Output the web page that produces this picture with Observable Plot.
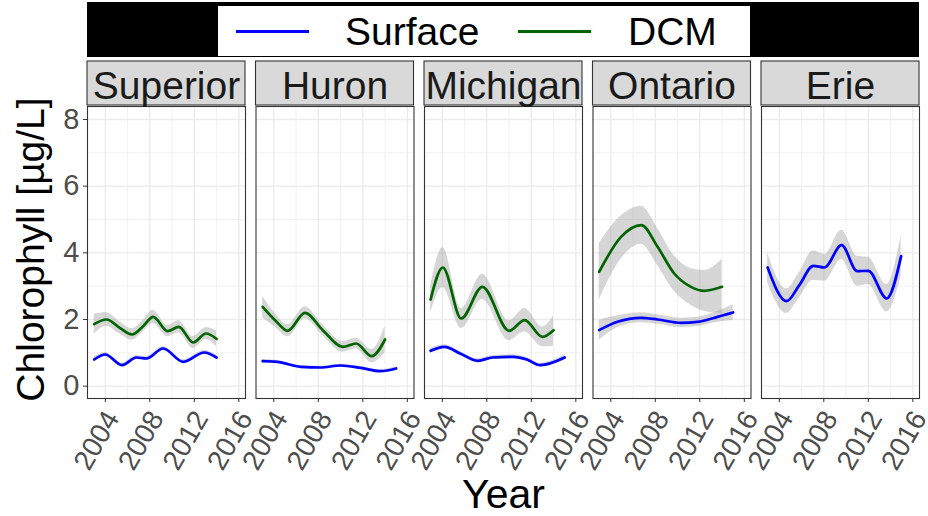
<!DOCTYPE html>
<html>
<head>
<meta charset="utf-8">
<script src="https://cdn.jsdelivr.net/npm/d3@7"></script>
<script src="https://cdn.jsdelivr.net/npm/@observablehq/plot@0.6"></script>
<style>
  body { margin: 0; background: #fff; font-family: "Liberation Sans", Arial, sans-serif; }
  #legend { position: relative; width: 928px; height: 58px; }
  #legend div, #legend span { position: absolute; }
</style>
</head>
<body>
<div id="legend"></div>
<div id="chart"></div>
<script>
// ---------- data ----------
const lakes = ["Superior", "Huron", "Michigan", "Ontario", "Erie"];
const seriesNames = ["Surface", "DCM"];
const seriesColors = ["#0000ff", "#006400"];
const yTicks = [0, 2, 4, 6, 8];
const yMinor = [1, 3, 5, 7];
const xTicks = [2004, 2008, 2012, 2016];
const xMinor = [2006, 2010, 2014];

// [year, smoothed value, lower CI, upper CI]
const superiorSurface = [
  [2003.0, 0.80, 0.73, 0.87], [2004.0, 0.95, 0.89, 1.01], [2005.5, 0.63, 0.57, 0.69],
  [2006.8, 0.86, 0.80, 0.92], [2007.7, 0.83, 0.77, 0.89], [2009.2, 1.13, 1.07, 1.19],
  [2011.0, 0.73, 0.67, 0.79], [2012.9, 1.01, 0.95, 1.07], [2014.0, 0.86, 0.79, 0.93]
];
const superiorDCM = [
  [2003.0, 1.86, 1.56, 2.16], [2004.1, 2.00, 1.80, 2.20], [2005.3, 1.75, 1.57, 1.93],
  [2006.4, 1.55, 1.38, 1.72], [2007.4, 1.80, 1.63, 1.97], [2008.3, 2.08, 1.88, 2.28],
  [2009.6, 1.65, 1.48, 1.82], [2010.6, 1.78, 1.60, 1.96], [2011.9, 1.31, 1.13, 1.49],
  [2013.05, 1.58, 1.40, 1.76], [2014.0, 1.42, 1.18, 1.66]
];
const huronSurface = [
  [2003.0, 0.75, 0.70, 0.80], [2004.3, 0.73, 0.69, 0.77], [2006.4, 0.58, 0.54, 0.62],
  [2008.2, 0.56, 0.52, 0.60], [2010.0, 0.62, 0.58, 0.66], [2011.8, 0.55, 0.51, 0.59],
  [2013.6, 0.45, 0.41, 0.49], [2015.0, 0.53, 0.47, 0.59]
];
const huronDCM = [
  [2003.0, 2.38, 2.05, 2.70], [2004.2, 1.95, 1.75, 2.15], [2005.25, 1.66, 1.48, 1.84],
  [2006.8, 2.20, 2.02, 2.38], [2008.4, 1.68, 1.52, 1.84], [2010.2, 1.18, 1.02, 1.34],
  [2011.4, 1.28, 1.12, 1.44], [2012.8, 0.90, 0.70, 1.10], [2014.0, 1.40, 1.00, 1.80]
];
const michiganSurface = [
  [2002.95, 1.06, 0.99, 1.13], [2004.2, 1.18, 1.12, 1.24], [2005.6, 0.98, 0.92, 1.04],
  [2007.2, 0.76, 0.70, 0.82], [2008.5, 0.86, 0.80, 0.92], [2010.4, 0.88, 0.82, 0.94],
  [2011.6, 0.80, 0.74, 0.86], [2012.8, 0.63, 0.57, 0.69], [2015.0, 0.86, 0.78, 0.94]
];
const michiganDCM = [
  [2002.95, 2.60, 2.20, 3.00], [2004.05, 3.56, 2.96, 4.16], [2005.7, 2.03, 1.73, 2.33],
  [2007.6, 2.98, 2.60, 3.36], [2010.0, 1.66, 1.36, 1.96], [2011.4, 1.98, 1.63, 2.33],
  [2013.0, 1.48, 1.18, 1.78], [2014.0, 1.68, 1.20, 2.10]
];
const ontarioSurface = [
  [2002.95, 1.68, 1.38, 1.98], [2004.6, 1.93, 1.75, 2.11], [2006.7, 2.05, 1.90, 2.20],
  [2008.2, 2.00, 1.86, 2.14], [2010.3, 1.90, 1.76, 2.04], [2011.8, 1.93, 1.79, 2.07],
  [2013.6, 2.08, 1.92, 2.24], [2015.0, 2.21, 1.98, 2.44]
];
const ontarioDCM = [
  [2002.95, 3.43, 2.58, 4.28], [2004.9, 4.47, 3.80, 5.10], [2006.75, 4.83, 4.26, 5.40],
  [2008.2, 4.18, 3.62, 4.74], [2009.7, 3.38, 2.85, 3.91], [2011.2, 2.98, 2.43, 3.53],
  [2012.4, 2.86, 2.25, 3.47], [2014.0, 2.98, 2.18, 3.80]
];
const erieSurface = [
  [2002.95, 3.56, 3.10, 4.00], [2004.65, 2.55, 2.18, 2.92], [2005.8, 3.03, 2.65, 3.41],
  [2007.05, 3.61, 3.18, 4.06], [2008.05, 3.56, 3.15, 3.95], [2009.6, 4.23, 3.80, 4.68],
  [2011.0, 3.45, 3.00, 3.90], [2012.0, 3.46, 3.05, 3.87], [2013.65, 2.63, 2.23, 3.05],
  [2014.95, 3.90, 3.30, 4.53]
];

const curves = [
  ["Superior", "Surface", superiorSurface], ["Superior", "DCM", superiorDCM],
  ["Huron", "Surface", huronSurface], ["Huron", "DCM", huronDCM],
  ["Michigan", "Surface", michiganSurface], ["Michigan", "DCM", michiganDCM],
  ["Ontario", "Surface", ontarioSurface], ["Ontario", "DCM", ontarioDCM],
  ["Erie", "Surface", erieSurface]
];
const rows = curves.flatMap(([lake, series, pts]) =>
  pts.map(([year, value, lo, hi]) => ({lake, series, year, value, lo, hi})));

// ---------- legend (HTML, above the SVG) ----------
const legend = document.getElementById("legend");
legend.innerHTML =
  `<div style="left:87px;top:2px;width:832px;height:55px;background:#000"></div>
   <div style="left:218px;top:6px;width:532px;height:50px;background:#fff"></div>`;
const keyLeft = [236, 518], textLeft = [345, 628];
seriesNames.forEach((s, i) => {
  const k = document.createElement("div");
  k.style.cssText = `left:${keyLeft[i]}px;top:30px;width:73px;height:3px;background:${seriesColors[i]}`;
  legend.appendChild(k);
  const t = document.createElement("span");
  t.textContent = s;
  t.style.cssText = `left:${textLeft[i]}px;top:12px;font-size:39px;line-height:39px;color:#000;white-space:nowrap`;
  legend.appendChild(t);
});

// ---------- chart ----------
const W = 928, H = 458, mt = 48, mb = 118, ml = 87, mr = 9;
const yDomain = [-0.37, 8.39];
const xDomain = [2002.4, 2016.6];
const pxPerUnit = (H - mt - mb) / (yDomain[1] - yDomain[0]);
const pxToY = px => yDomain[1] + (mt - px) / pxPerUnit;

const chart = Plot.plot({
  width: W, height: H,
  marginTop: mt, marginBottom: mb, marginLeft: ml, marginRight: mr,
  style: {fontFamily: "'Liberation Sans', Arial, sans-serif", background: "#fff", overflow: "visible"},
  fx: {domain: lakes, paddingInner: 0.0623, paddingOuter: 0, axis: null, label: null, round: false},
  x: {domain: xDomain},
  y: {domain: yDomain},
  color: {domain: seriesNames, range: seriesColors},
  marks: [
    Plot.gridY(yMinor, {stroke: "#ebebeb", strokeOpacity: 1, strokeWidth: 0.7}),
    Plot.gridX(xMinor, {stroke: "#ebebeb", strokeOpacity: 1, strokeWidth: 0.7}),
    Plot.gridY(yTicks, {stroke: "#ebebeb", strokeOpacity: 1, strokeWidth: 1.3}),
    Plot.gridX(xTicks, {stroke: "#ebebeb", strokeOpacity: 1, strokeWidth: 1.3}),
    Plot.areaY(rows, {fx: "lake", x: "year", y1: "lo", y2: "hi", z: "series",
      fill: "#999999", fillOpacity: 0.4, curve: "monotone-x"}),
    Plot.line(rows, {fx: "lake", x: "year", y: "value", z: "series", stroke: "series",
      strokeWidth: 2.7, curve: "monotone-x"}),
    Plot.frame({stroke: "#333333", strokeWidth: 1.1}),
    // facet strips
    Plot.rect(lakes, {fx: d => d, x1: xDomain[0], x2: xDomain[1], y1: pxToY(47), y2: pxToY(3),
      fill: "#d9d9d9", stroke: "#333333", strokeWidth: 1.1}),
    Plot.text(lakes, {fx: d => d, text: d => d, x: (xDomain[0] + xDomain[1]) / 2, y: pxToY(40),
      lineAnchor: "bottom", fontSize: 39, fill: "#1a1a1a"}),
    Plot.axisY({ticks: yTicks, tickSize: 4, tickPadding: 4, fontSize: 29, color: "#4d4d4d",
      stroke: "#333333", label: null}),
    // x ticks (marks only) and rotated tick labels
    Plot.axisX({ticks: xTicks, tickFormat: () => "", tickSize: 4, stroke: "#333333", label: null}),
    Plot.axisX({ticks: xTicks, tickFormat: d => String(d), tickSize: 0, tickPadding: 9,
      tickRotate: -60, dx: 7, dy: 6, fontSize: 28, fill: "#4d4d4d", label: null}),
    Plot.text(["Chlorophyll [µg/L]"], {fx: () => "Superior", text: d => d, frameAnchor: "left",
      rotate: -90, lineAnchor: "bottom", textAnchor: "middle", dx: -44, dy: -3,
      fontSize: 39, fill: "#000"}),
    Plot.text(["Year"], {fx: () => "Michigan", text: d => d, frameAnchor: "bottom",
      lineAnchor: "bottom", dy: 109, fontSize: 41, fill: "#000"})
  ]
});
document.getElementById("chart").appendChild(chart);
</script>
</body>
</html>
